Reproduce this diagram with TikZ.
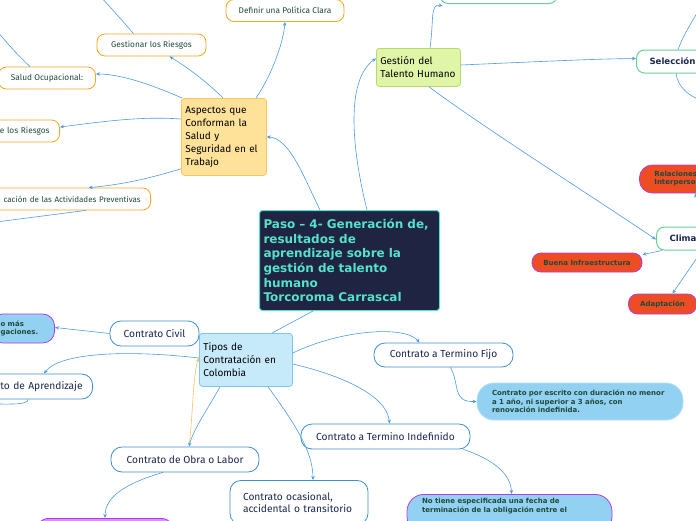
\documentclass[tikz,border=0pt]{standalone}
\usepackage{fontspec}
\setmainfont{Fira Sans}
\newfontfamily\vfont{DejaVu Sans}
\usetikzlibrary{arrows.meta,calc}
\definecolor{cnavy}{HTML}{1E2442}
\definecolor{cturq}{HTML}{55E2CB}
\definecolor{cline}{HTML}{4C9BE6}
\definecolor{corange}{HTML}{F5A623}
\definecolor{cgreen}{HTML}{1F4A3A}
\definecolor{cblue}{HTML}{3E8FD0}
\definecolor{cink}{HTML}{1A2850}
\definecolor{cnote}{HTML}{92D1F2}
\definecolor{cpurple}{HTML}{B23DE8}
\definecolor{cred}{HTML}{EE4D23}
\definecolor{cmint}{HTML}{66D29A}
\definecolor{cyel}{HTML}{FFE29A}
\definecolor{cyeld}{HTML}{F7C861}
\definecolor{clime}{HTML}{E0F5A8}
\definecolor{climed}{HTML}{B5DC6A}
\definecolor{csky}{HTML}{C7EAFB}
\definecolor{cskyd}{HTML}{7FC6EE}
\tikzset{
  root/.style={fill=cnavy,draw=cturq,line width=1pt,rounded corners=3pt,text=cturq,anchor=north west,align=left,inner xsep=3pt,font=\vfont\bfseries\fontsize{12}{14.6}\selectfont},
  topic/.style={rounded corners=3pt,line width=0.8pt,anchor=north west,align=left,inner xsep=4pt,text=black,font=\fontsize{10}{13}\selectfont},
  orng/.style={draw=corange,fill=white,rounded corners=8pt,line width=0.8pt,text=cgreen,minimum height=22pt,font=\fontsize{8.3}{10}\selectfont},
  ctr/.style={draw=cblue,fill=white,rounded corners=11pt,line width=0.8pt,text=cink,minimum height=25pt,font=\fontsize{10.2}{12.2}\selectfont},
  note/.style={fill=cnote,draw=cpurple,rounded corners=14pt,line width=0.8pt,text=cgreen,align=left,inner xsep=15pt,font=\vfont\bfseries\fontsize{7}{8.6}\selectfont},
  tag/.style={fill=cred,draw=cpurple,rounded corners=9pt,line width=0.8pt,text=cgreen,font=\vfont\bfseries\fontsize{7}{8}\selectfont},
  grn/.style={draw=cmint,fill=white,rounded corners=8pt,line width=1pt,text=cink,minimum height=23pt,font=\vfont\bfseries\fontsize{8.6}{10}\selectfont},
  arr/.style={-{Stealth[length=4pt,width=3.5pt]},line width=0.6pt,draw=cline},
  lin/.style={line width=0.6pt,draw=cline},
}
\begin{document}
\begin{tikzpicture}[x=1pt,y=-1pt]
  \useasboundingbox (0,0) rectangle (696,520);
  \clip (0,0) rectangle (696,520);
  \node[root,minimum width=180pt,minimum height=100pt,text width=172pt] (paso) at (259,210) {Paso – 4- Generación de,\\resultados de\\aprendizaje sobre la\\gestión de talento\\humano\\Torcoroma Carrascal};
  \node[topic,fill=cyel,draw=cyeld,minimum height=77pt,text width=77pt] (asp) at (181,98) {Aspectos que\\Conforman la\\Salud y\\Seguridad en el\\Trabajo};
  \node[topic,fill=clime,draw=climed,minimum height=38pt,text width=76pt] (gth) at (376,48) {Gestión del\\Talento Humano};
  \node[topic,fill=csky,draw=cskyd,minimum height=53pt,text width=85pt] (tip) at (199,333) {Tipos de\\Contratación en\\Colombia};
  \node[orng,minimum width=118pt] (pol) at (285,10.5) {Definir una Política Clara};
  \node[orng,minimum width=109pt] (ges) at (151.5,45) {Gestionar los Riesgos};
  \node[orng,minimum width=97pt] (sal) at (47,78) {Salud Ocupacional:};
  \node[orng,anchor=east,text width=108pt,align=right,inner xsep=10pt] (ide) at (60,131) {e los Riesgos};
  \node[orng,anchor=east,text width=180pt,align=right,inner xsep=10pt,font=\fontsize{8}{10}\selectfont] (pla) at (151,199) {cación de las Actividades Preventivas};
  \node[ctr,minimum width=89pt] (civ) at (154.5,333.5) {Contrato Civil};
  \node[ctr,anchor=east,text width=120pt,align=right,inner xsep=10pt] (apr) at (93,386.5) {to de Aprendizaje};
  \node[ctr,minimum width=148pt] (obr) at (185,459.5) {Contrato de Obra o Labor};
  \node[ctr,anchor=north,minimum height=44pt,text width=112pt,align=left,inner xsep=13pt] (oca) at (299,480) {Contrato ocasional,\\accidental o transitorio};
  \node[ctr,minimum width=139pt,minimum height=24pt] (fij) at (443.5,355) {Contrato a Termino Fijo};
  \node[ctr,minimum width=169pt] (ind) at (385.5,436.5) {Contrato a Termino Indefinido};
  \node[note,anchor=east,minimum height=29pt,text width=44pt,inner xsep=10pt,rounded corners=12pt] (mas) at (55,328.5) {o más\\gaciones.};
  \node[note,draw=cnote!70!white,minimum width=206pt,minimum height=37pt,text width=176pt,rounded corners=17pt] (fijn) at (580,401.5) {Contrato por escrito con duración no menor\\a 1 año, ni superior a 3 años, con\\renovación indefinida.};
  \node[note,anchor=north,minimum width=205pt,text width=175pt,rounded corners=17pt,inner ysep=4pt] (indn) at (509.5,494) {No tiene especificada una fecha de\\terminación de la obligación entre el\\\mbox{}\\\mbox{}};
  \node[note,fill=cpurple!55,anchor=north,minimum width=140pt,minimum height=30pt] (obrn) at (105,518) {};
  \node[grn,anchor=south,minimum width=117pt] (gtop) at (498.5,4) {};
  \node[grn,anchor=west,text width=70pt,align=left,inner xsep=13pt] (sel) at (636,61.5) {Selección};
  \node[grn,anchor=west,text width=60pt,align=left,inner xsep=13pt] (cli) at (656,238.5) {Clima};
  \node[tag,anchor=west,text width=60pt,align=left,inner xsep=15pt,minimum height=28pt,rounded corners=13pt] (rel) at (639,179) {Relaciones\\Interperso};
  \node[tag,minimum width=110pt,minimum height=19pt] (inf) at (587,262.5) {Buena Infraestructura};
  \node[tag,minimum width=68pt,minimum height=20pt] (ada) at (662.5,304) {Adaptación};
  \coordinate (o1) at (100,-4);
  \coordinate (o2) at (-4,30);
  \coordinate (o3) at (-4,222);
  \coordinate (o4) at (-4,404);
  \coordinate (o5) at (700,8);
  \coordinate (o6) at (700,100);
  \draw[arr] ([xshift=61pt]paso.north west) .. controls (305,180) and (290,138) .. (asp.east);
  \draw[arr] ([xshift=108pt]paso.north west) .. controls (352,150) and (345,80) .. ([yshift=9pt]gth.west);
  \draw[lin] ([xshift=54pt]paso.south west) -- ([xshift=73pt]tip.north west);
  \draw[arr] ([xshift=75pt]asp.north west) .. controls (270,78) and (283,45) .. (pol.south);
  \draw[arr] ([xshift=42pt]asp.north west) .. controls (205,80) and (185,66) .. ([xshift=18pt]ges.south);
  \draw[arr] ([xshift=1pt]asp.north west) .. controls (150,84) and (120,74) .. ([yshift=4pt]sal.east);
  \draw[arr] ([yshift=-21pt]asp.north west) .. controls (140,116) and (100,122) .. ([yshift=4pt]ide.east);
  \draw[arr] ([yshift=7pt]asp.south west) .. controls (160,175) and (130,184) .. ([xshift=38pt]pla.north);
  \draw[lin] ([xshift=-18pt]ges.north) .. controls (120,18) .. (o1);
  \draw[lin] ([xshift=-17pt]sal.north) .. controls (15,52) .. (o2);
  \draw[lin] ([xshift=-65pt]pla.south east) -- (o3);
  \draw[arr] ([xshift=54pt]gth.north west) .. controls (434,20) and (430,3) .. ([xshift=-56pt,yshift=-2pt]gtop.south);
  \draw[arr] ([yshift=-17pt]gth.north east) .. controls (530,62) and (590,59) .. ([yshift=3pt]sel.west);
  \draw[arr] ([xshift=53pt]gth.south west) .. controls (480,125) and (590,195) .. ([yshift=-1pt]cli.west);
  \draw[lin] ([xshift=42pt]sel.north west) .. controls (684,35) .. (o5);
  \draw[lin] ([xshift=40pt]sel.south west) .. controls (678,88) and (690,96) .. (o6);
  \draw[arr] ([xshift=6pt]cli.south west) -- ([yshift=-2pt]inf.north east);
  \draw[arr] ([xshift=46pt]cli.south west) -- ([xshift=10pt]ada.north);
  \draw[arr] ([xshift=48pt]cli.north west) -- ([xshift=56pt]rel.south west);
  \draw[arr] (civ.west) -- ([yshift=1pt]mas.east);
  \draw[arr] ([yshift=-25pt]tip.north west) .. controls (130,350) and (60,352) .. ([xshift=-49pt]apr.north east);
  \draw[line width=0.6pt,draw=corange!70,-{Stealth[length=4pt,width=3.5pt]}] ([xshift=4pt]obr.north) .. controls (193,415) and (193,372) .. ([yshift=-25pt]tip.north west);
  \draw[lin] ([xshift=-65pt]apr.south east) .. controls (28,405) and (10,404) .. (o4);
  \draw[arr] ([xshift=21pt]tip.south west) .. controls (210,405) and (193,430) .. ([xshift=4pt]obr.north);
  \draw[arr] ([xshift=69pt]tip.south west) .. controls (292,420) and (313,450) .. ([xshift=14pt]oca.north);
  \draw[arr] ([yshift=-20pt]tip.north east) .. controls (340,330) and (405,325) .. ([xshift=-24pt]fij.north);
  \draw[arr] ([yshift=-31pt]tip.north east) .. controls (340,375) and (387,395) .. ([xshift=4pt]ind.north);
  \draw[arr] ([xshift=7pt]fij.south) .. controls (460,385) and (452,402) .. (fijn.west);
  \draw[arr] ([xshift=-7pt]ind.south east) .. controls (495,460) and (511,475) .. ([xshift=2pt]indn.north);
  \draw[arr] ([xshift=-22pt]obr.south) .. controls (130,482) and (105,495) .. (obrn.north);
\end{tikzpicture}
\end{document}
